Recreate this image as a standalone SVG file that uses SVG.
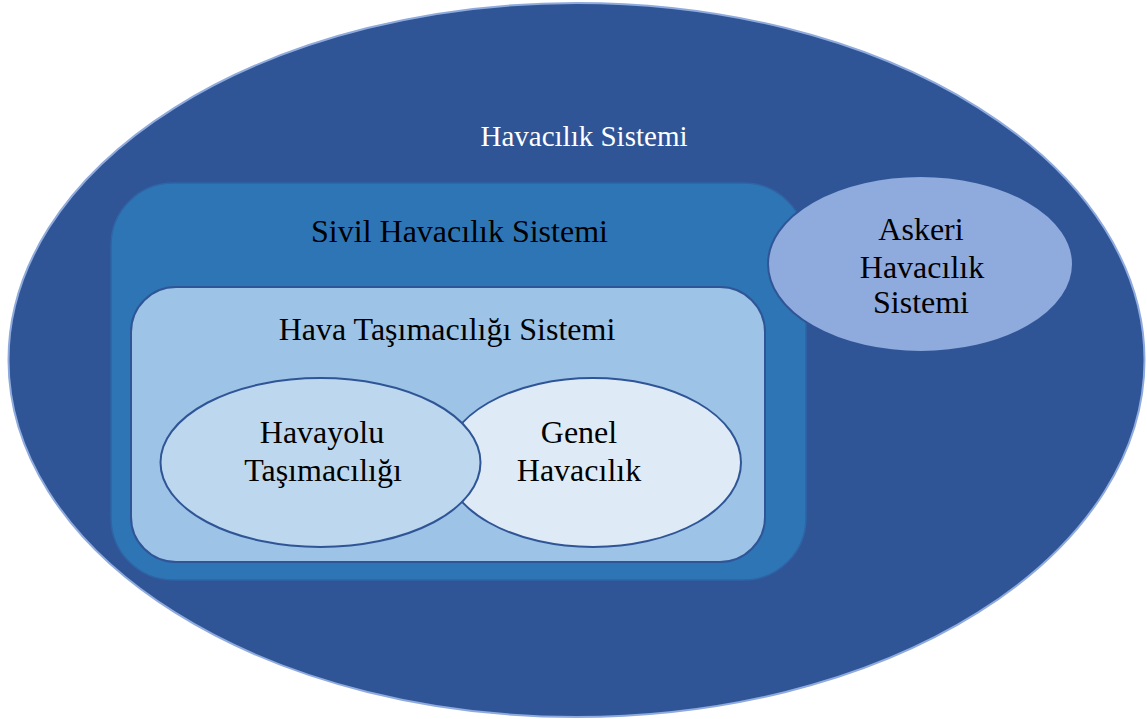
<svg xmlns="http://www.w3.org/2000/svg" width="1147" height="719" viewBox="0 0 1147 719">
<style>
.edge{stroke:#2F5597;stroke-width:2}
</style>
<rect width="1147" height="719" fill="#fff"/>
<g id="havacilik">
<ellipse cx="576.5" cy="360" rx="568" ry="357" fill="#2F5597" stroke="#8FAADC" stroke-width="2"/>
<text x="584" y="146" font-family="Liberation Serif" font-size="29" text-anchor="middle" fill="#fff">Havacılık Sistemi</text>
</g>
<g id="sivil">
<rect x="111" y="183" width="695" height="397" rx="62" fill="#2E75B6" stroke="#2F64A5" stroke-width="1.5"/>
<text x="459.5" y="242" font-family="Liberation Serif" font-size="32" text-anchor="middle" fill="#000">Sivil Havacılık Sistemi</text>
</g>
<g id="askeri">
<ellipse class="edge" cx="920.5" cy="264" rx="152.5" ry="88" fill="#8FAADC"/>
<g font-family="Liberation Serif" font-size="32" text-anchor="middle" fill="#000">
<text x="921" y="240">Askeri</text>
<text x="922" y="278">Havacılık</text>
<text x="921" y="313">Sistemi</text>
</g>
</g>
<g id="hava-tasimaciligi">
<rect class="edge" x="131" y="287" width="634" height="275" rx="45" fill="#9DC3E6"/>
<text x="447" y="340" font-family="Liberation Serif" font-size="32" text-anchor="middle" fill="#000">Hava Taşımacılığı Sistemi</text>
</g>
<g id="genel">
<ellipse class="edge" cx="593" cy="462.5" rx="148" ry="84.5" fill="#DEEBF7"/>
<g font-family="Liberation Serif" font-size="32" text-anchor="middle" fill="#000">
<text x="579" y="443">Genel</text>
<text x="579" y="481">Havacılık</text>
</g>
</g>
<g id="havayolu">
<ellipse class="edge" cx="320.5" cy="462.5" rx="160" ry="84.5" fill="#BDD7EE"/>
<g font-family="Liberation Serif" font-size="32" text-anchor="middle" fill="#000">
<text x="322" y="443">Havayolu</text>
<text x="323" y="481">Taşımacılığı</text>
</g>
</g>
<g id="connectors"></g>
</svg>
